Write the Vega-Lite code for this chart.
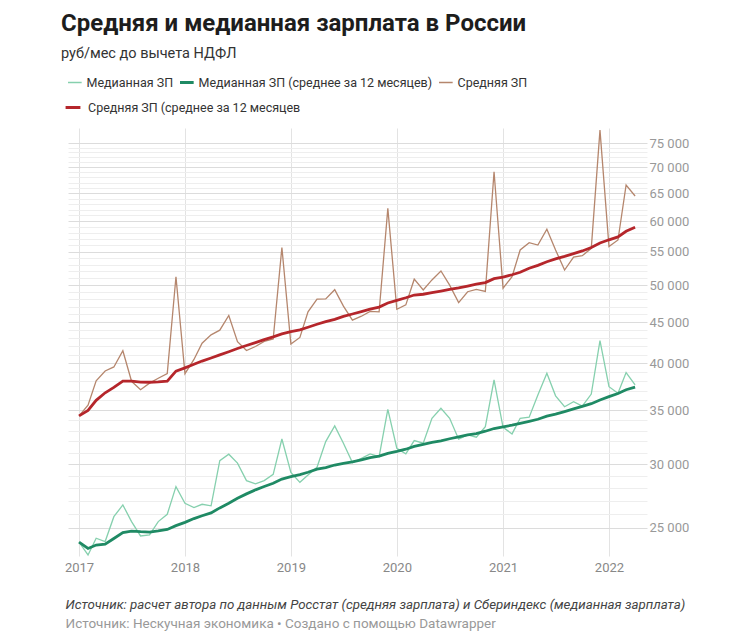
{
  "$schema": "https://vega.github.io/schema/vega-lite/v6.json",
  "width": 579,
  "height": 428,
  "autosize": {"type": "none"},
  "padding": {"left": 68, "top": 128, "right": 103, "bottom": 85},
  "background": "white",
  "title": {
    "text": "Средняя и медианная зарплата в России",
    "subtitle": "руб/мес до вычета НДФЛ",
    "anchor": "start",
    "dx": -3,
    "font": "Roboto",
    "fontSize": 24,
    "fontWeight": "bold",
    "color": "#1d1d1d",
    "subtitleFont": "Roboto",
    "subtitleFontSize": 14.5,
    "subtitleColor": "#333333",
    "subtitlePadding": 11,
    "offset": 11
  },
  "data": {
    "values": [
      {"date": "2017-01-01", "med": 24010, "med12": 24010, "avg": 34422, "avg12": 34422},
      {"date": "2017-02-01", "med": 23150, "med12": 23580, "avg": 35497, "avg12": 34960},
      {"date": "2017-03-01", "med": 24280, "med12": 23813, "avg": 38047, "avg12": 35989},
      {"date": "2017-04-01", "med": 24050, "med12": 23873, "avg": 39126, "avg12": 36773},
      {"date": "2017-05-01", "med": 25820, "med12": 24262, "avg": 39585, "avg12": 37335},
      {"date": "2017-06-01", "med": 26700, "med12": 24668, "avg": 41454, "avg12": 38022},
      {"date": "2017-07-01", "med": 25460, "med12": 24781, "avg": 37997, "avg12": 38018},
      {"date": "2017-08-01", "med": 24440, "med12": 24739, "avg": 37099, "avg12": 37903},
      {"date": "2017-09-01", "med": 24510, "med12": 24713, "avg": 37796, "avg12": 37891},
      {"date": "2017-10-01", "med": 25460, "med12": 24788, "avg": 38333, "avg12": 37936},
      {"date": "2017-11-01", "med": 26000, "med12": 24898, "avg": 38848, "avg12": 38019},
      {"date": "2017-12-01", "med": 28130, "med12": 25168, "avg": 51197, "avg12": 39117},
      {"date": "2018-01-01", "med": 26830, "med12": 25403, "avg": 38833, "avg12": 39484},
      {"date": "2018-02-01", "med": 26500, "med12": 25682, "avg": 40443, "avg12": 39897},
      {"date": "2018-03-01", "med": 26750, "med12": 25888, "avg": 42364, "avg12": 40256},
      {"date": "2018-04-01", "med": 26630, "med12": 26103, "avg": 43381, "avg12": 40611},
      {"date": "2018-05-01", "med": 30300, "med12": 26476, "avg": 43967, "avg12": 40976},
      {"date": "2018-06-01", "med": 30860, "med12": 26823, "avg": 45848, "avg12": 41342},
      {"date": "2018-07-01", "med": 30080, "med12": 27208, "avg": 42540, "avg12": 41721},
      {"date": "2018-08-01", "med": 28620, "med12": 27556, "avg": 41489, "avg12": 42087},
      {"date": "2018-09-01", "med": 28350, "med12": 27876, "avg": 41965, "avg12": 42434},
      {"date": "2018-10-01", "med": 28620, "med12": 28139, "avg": 42573, "avg12": 42787},
      {"date": "2018-11-01", "med": 29140, "med12": 28401, "avg": 42873, "avg12": 43123},
      {"date": "2018-12-01", "med": 32230, "med12": 28743, "avg": 55665, "avg12": 43495},
      {"date": "2019-01-01", "med": 29300, "med12": 28948, "avg": 42263, "avg12": 43781},
      {"date": "2019-02-01", "med": 28480, "med12": 29113, "avg": 43062, "avg12": 43999},
      {"date": "2019-03-01", "med": 29080, "med12": 29308, "avg": 46324, "avg12": 44329},
      {"date": "2019-04-01", "med": 29730, "med12": 29566, "avg": 48030, "avg12": 44717},
      {"date": "2019-05-01", "med": 31990, "med12": 29707, "avg": 48069, "avg12": 45058},
      {"date": "2019-06-01", "med": 33450, "med12": 29923, "avg": 49348, "avg12": 45350},
      {"date": "2019-07-01", "med": 31840, "med12": 30069, "avg": 47081, "avg12": 45729},
      {"date": "2019-08-01", "med": 30130, "med12": 30195, "avg": 45248, "avg12": 46042},
      {"date": "2019-09-01", "med": 30500, "med12": 30374, "avg": 45752, "avg12": 46357},
      {"date": "2019-10-01", "med": 30890, "med12": 30563, "avg": 46374, "avg12": 46674},
      {"date": "2019-11-01", "med": 30650, "med12": 30689, "avg": 46324, "avg12": 46962},
      {"date": "2019-12-01", "med": 35080, "med12": 30927, "avg": 62239, "avg12": 47510},
      {"date": "2020-01-01", "med": 31390, "med12": 31101, "avg": 46674, "avg12": 47877},
      {"date": "2020-02-01", "med": 30890, "med12": 31302, "avg": 47257, "avg12": 48227},
      {"date": "2020-03-01", "med": 32080, "med12": 31552, "avg": 50850, "avg12": 48604},
      {"date": "2020-04-01", "med": 31840, "med12": 31728, "avg": 49300, "avg12": 48710},
      {"date": "2020-05-01", "med": 34190, "med12": 31911, "avg": 50740, "avg12": 48932},
      {"date": "2020-06-01", "med": 35180, "med12": 32055, "avg": 52050, "avg12": 49157},
      {"date": "2020-07-01", "med": 34190, "med12": 32251, "avg": 50000, "avg12": 49401},
      {"date": "2020-08-01", "med": 32210, "med12": 32424, "avg": 47560, "avg12": 49593},
      {"date": "2020-09-01", "med": 32600, "med12": 32599, "avg": 49060, "avg12": 49869},
      {"date": "2020-10-01", "med": 32390, "med12": 32724, "avg": 49400, "avg12": 50121},
      {"date": "2020-11-01", "med": 33380, "med12": 32952, "avg": 49100, "avg12": 50353},
      {"date": "2020-12-01", "med": 38150, "med12": 33208, "avg": 69100, "avg12": 50924},
      {"date": "2021-01-01", "med": 33320, "med12": 33368, "avg": 49550, "avg12": 51164},
      {"date": "2021-02-01", "med": 32700, "med12": 33519, "avg": 51230, "avg12": 51495},
      {"date": "2021-03-01", "med": 34190, "med12": 33695, "avg": 55270, "avg12": 51863},
      {"date": "2021-04-01", "med": 34290, "med12": 33899, "avg": 56440, "avg12": 52458},
      {"date": "2021-05-01", "med": 36550, "med12": 34096, "avg": 56050, "avg12": 52901},
      {"date": "2021-06-01", "med": 38880, "med12": 34404, "avg": 58630, "avg12": 53449},
      {"date": "2021-07-01", "med": 36450, "med12": 34593, "avg": 55270, "avg12": 53888},
      {"date": "2021-08-01", "med": 35340, "med12": 34853, "avg": 52200, "avg12": 54275},
      {"date": "2021-09-01", "med": 35850, "med12": 35124, "avg": 54170, "avg12": 54701},
      {"date": "2021-10-01", "med": 35400, "med12": 35375, "avg": 54370, "avg12": 55115},
      {"date": "2021-11-01", "med": 36640, "med12": 35647, "avg": 55530, "avg12": 55651},
      {"date": "2021-12-01", "med": 42670, "med12": 36023, "avg": 77800, "avg12": 56376},
      {"date": "2022-01-01", "med": 37420, "med12": 36365, "avg": 55800, "avg12": 56897},
      {"date": "2022-02-01", "med": 36720, "med12": 36700, "avg": 56870, "avg12": 57367},
      {"date": "2022-03-01", "med": 38950, "med12": 37096, "avg": 66530, "avg12": 58305},
      {"date": "2022-04-01", "med": 37600, "med12": 37372, "avg": 64480, "avg12": 58975}
    ]
  },
  "transform": [
    {"fold": ["med", "med12", "avg", "avg12"], "as": ["series", "value"]}
  ],
  "layer": [
    {
      "transform": [{"filter": "datum.series === 'med' || datum.series === 'avg'"}],
      "mark": {"type": "line", "strokeWidth": 1.3},
      "encoding": {
        "x": {
          "field": "date",
          "type": "temporal",
          "scale": {
            "type": "utc",
            "domain": [
              {"year": 2016, "month": 11, "date": 24, "utc": true},
              {"year": 2022, "month": 5, "date": 12, "utc": true}
            ]
          },
          "axis": {
            "orient": "bottom",
            "format": "%Y",
            "tickCount": {"interval": "year", "step": 1},
            "labelFont": "Roboto",
            "labelFontSize": 13,
            "labelColor": "#888888",
            "labelPadding": 5,
            "labelFlush": false,
            "labelOverlap": false,
            "ticks": false,
            "domain": false,
            "grid": true,
            "gridColor": "#e3e3e3",
            "title": "Источник: расчет автора по данным Росстат (средняя зарплата) и Сбериндекс (медианная зарплата)",
            "titleFont": "Roboto",
            "titleFontSize": 13.3,
            "titleFontStyle": "italic",
            "titleFontWeight": "normal",
            "titleColor": "#444444",
            "titleAnchor": "start",
            "titleAlign": "left",
            "titleX": -3,
            "titleY": 52,
            "titleBaseline": "alphabetic"
          }
        },
        "y": {
          "field": "value",
          "type": "quantitative",
          "scale": {"type": "log", "domain": [23080, 78280], "nice": false},
          "axis": {
            "orient": "right",
            "title": null,
            "values": [25000, 26000, 27000, 28000, 29000, 30000, 31000, 32000, 33000, 34000, 35000, 36000, 37000, 38000, 39000, 40000, 41000, 42000, 43000, 44000, 45000, 46000, 47000, 48000, 49000, 50000, 51000, 52000, 53000, 54000, 55000, 56000, 57000, 58000, 59000, 60000, 61000, 62000, 63000, 64000, 65000, 66000, 67000, 68000, 69000, 70000, 71000, 72000, 73000, 74000, 75000],
            "labelExpr": "datum.value % 5000 === 0 ? replace(format(datum.value, ','), ',', ' ') : ''",
            "labelFont": "Roboto",
            "labelFontSize": 13,
            "labelColor": "#999999",
            "labelAlign": "left",
            "labelPadding": 2,
            "labelOverlap": false,
            "ticks": false,
            "domain": false,
            "grid": true,
            "gridColor": {"condition": {"test": "datum.value % 5000 === 0", "value": "#dcdcdc"}, "value": "#eeeeee"}
          }
        },
        "color": {
          "field": "series",
          "type": "nominal",
          "scale": {
            "domain": ["med", "med12", "avg"],
            "range": ["#86d0ae", "#1f8a64", "#b5866d"]
          },
          "legend": {
            "orient": "top",
            "direction": "horizontal",
            "title": null,
            "columnPadding": 6,
            "offset": 33,
            "clipHeight": 23,
            "symbolType": "stroke",
            "symbolSize": 220,
            "symbolStrokeWidth": 1.5,
            "labelFont": "Roboto",
            "labelFontSize": 12.5,
            "labelColor": "#333333",
            "labelOffset": 6,
            "labelLimit": 400,
            "labelExpr": "datum.value === 'med' ? 'Медианная ЗП' : datum.value === 'med12' ? 'Медианная ЗП (среднее за 12 месяцев)' : 'Средняя ЗП'",
            "encode": {
              "symbols": {
                "update": {
                  "strokeWidth": {"signal": "datum.value === 'med12' ? 3 : 1.5"}
                }
              }
            }
          }
        }
      }
    },
    {
      "transform": [{"filter": "datum.series === 'med12'"}],
      "mark": {"type": "line", "strokeWidth": 2.8},
      "encoding": {
        "x": {
          "field": "date",
          "type": "temporal",
          "axis": {
            "orient": "bottom",
            "labels": false,
            "ticks": false,
            "domain": false,
            "grid": false,
            "title": "Источник: Нескучная экономика • Создано с помощью Datawrapper",
            "titleFont": "Roboto",
            "titleFontSize": 13.5,
            "titleFontWeight": "normal",
            "titleColor": "#999999",
            "titleAnchor": "start",
            "titleAlign": "left",
            "titleX": -3,
            "titleY": 71,
            "titleBaseline": "alphabetic"
          }
        },
        "y": {"field": "value", "type": "quantitative"},
        "color": {"field": "series", "type": "nominal"}
      }
    },
    {
      "transform": [{"filter": "datum.series === 'avg12'"}],
      "mark": {"type": "line", "strokeWidth": 2.8},
      "encoding": {
        "x": {"field": "date", "type": "temporal", "axis": null},
        "y": {"field": "value", "type": "quantitative"},
        "stroke": {
          "field": "series",
          "type": "nominal",
          "scale": {"domain": ["avg12"], "range": ["#b5262b"]},
          "legend": {
            "orient": "none",
            "legendX": -4,
            "legendY": -32,
            "direction": "horizontal",
            "title": null,
            "clipHeight": 23,
            "symbolType": "stroke",
            "symbolSize": 220,
            "symbolStrokeWidth": 1.5,
            "labelFont": "Roboto",
            "labelFontSize": 12.5,
            "labelColor": "#333333",
            "labelOffset": 6,
            "labelLimit": 400,
            "labelExpr": "'Средняя ЗП (среднее за 12 месяцев'",
            "encode": {
              "symbols": {
                "update": {
                  "strokeWidth": {"value": 3}
                }
              }
            }
          }
        }
      }
    }
  ],
  "resolve": {"axis": {"x": "independent"}},
  "config": {
    "view": {"stroke": null},
    "font": "Roboto"
  }
}
